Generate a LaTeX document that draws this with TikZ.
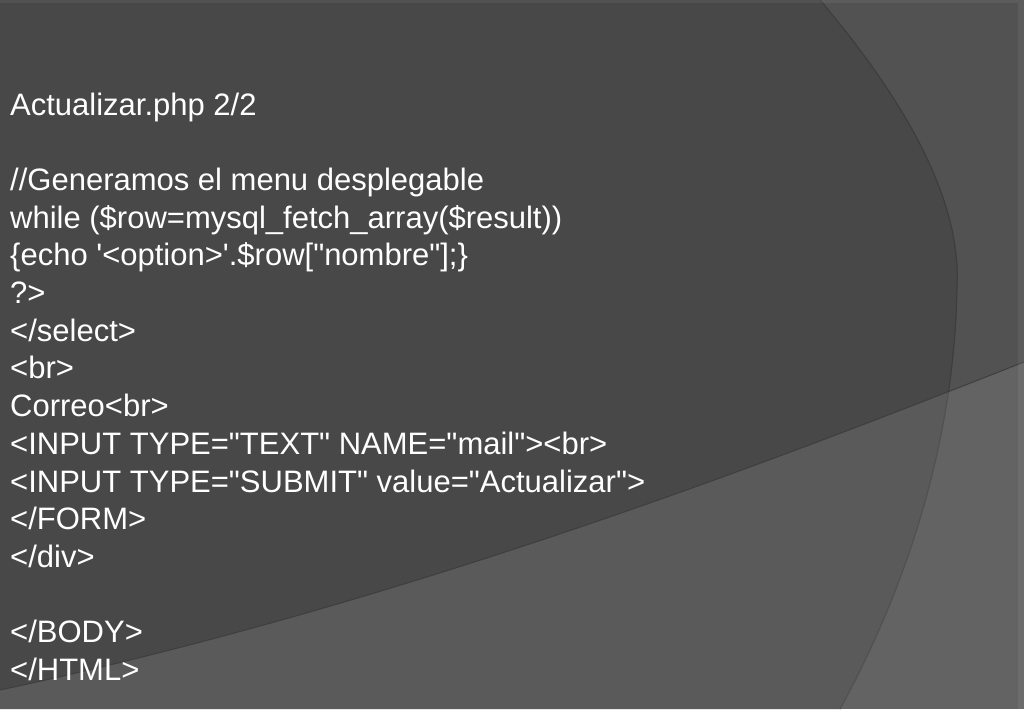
\documentclass[tikz,border=0pt]{standalone}
\usepackage{fontspec}
\newfontfamily\codefont{Liberation Sans}
\newcommand\dq{\symbol{34}}
\newcommand\sq{\symbol{39}}
\begin{document}
\begin{tikzpicture}[x=1pt,y=-1pt,
  codeline/.style={anchor=base west,inner sep=0pt,text=white,font=\codefont\fontsize{31}{31}\selectfont}]
\useasboundingbox (0,0) rectangle (1024,709);
\fill[color={rgb,255:red,82;green,82;blue,82}] (0,0) rectangle (1024,709);
\fill[color={rgb,255:red,72;green,72;blue,72}] (0,0) -- (820,0) .. controls (930,130) and (960,220) .. (957,285) .. controls (955,450) and (900,600) .. (840,709) -- (0,709) -- cycle;
\draw[color={rgb,255:red,62;green,62;blue,62},line width=1.2] (820,0) .. controls (930,130) and (960,220) .. (957,285) .. controls (955,450) and (900,600) .. (840,709);
\fill[white,opacity=0.1] (0,690) .. controls (420,600) and (800,450) .. (1024,362) -- (1024,709) -- (0,709) -- cycle;
\draw[color={rgb,255:red,62;green,62;blue,62},line width=1] (0,690) .. controls (420,600) and (800,450) .. (1024,362);
\fill[white,opacity=0.06] (1018,0) rectangle (1024,709);
\fill[white,opacity=0.06] (0,0) rectangle (1018,3);
\foreach \t [count=\i from 0] in {Actualizar.php 2/2,,{//Generamos el menu desplegable},{while (\$row=mysql\_fetch\_array(\$result))},{\{echo \sq<option>\sq.\$row[\dq nombre\dq];\}},?>,</select>,<br>,Correo<br>,{<INPUT TYPE=\dq TEXT\dq\ NAME=\dq mail\dq><br>},{<INPUT TYPE=\dq SUBMIT\dq\ value=\dq Actualizar\dq>},</FORM>,</div>,,</BODY>,</HTML>}
  \node[codeline] (l\i) at (10,{115+\i*37.7}) {\t};
\end{tikzpicture}
\end{document}
